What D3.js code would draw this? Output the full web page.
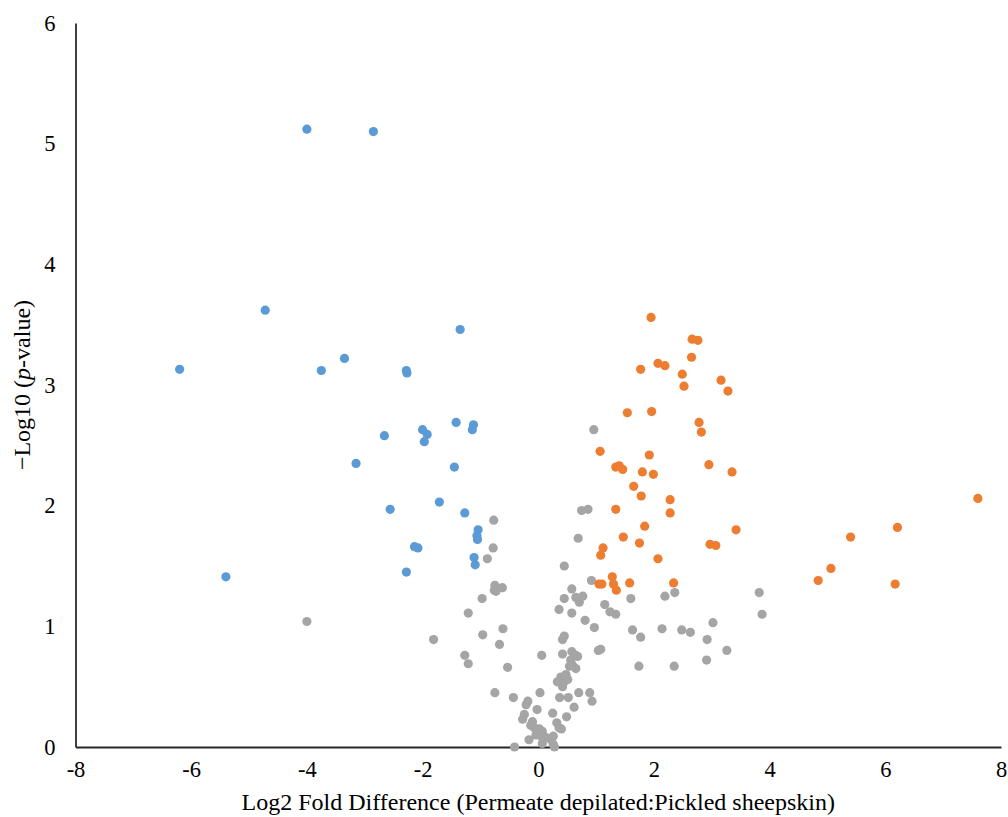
<!DOCTYPE html>
<html>
<head>
<meta charset="utf-8">
<script src="https://cdn.jsdelivr.net/npm/d3@7"></script>
<style>
  html, body { margin: 0; padding: 0; background: #fff; }
  svg { display: block; }
</style>
</head>
<body>
<svg id="chart" width="1008" height="817"></svg>
<script>
// Proteins significantly lower in permeate-depilated skin: [log2 fold difference, -log10 p]
const lowerProteins = [
  [-4.00, 5.12], [-2.85, 5.10], [-4.72, 3.62], [-6.20, 3.13], [-3.35, 3.22],
  [-3.75, 3.12], [-2.28, 3.12], [-2.27, 3.10], [-1.35, 3.46], [-2.66, 2.58],
  [-3.15, 2.35], [-2.00, 2.63], [-1.92, 2.59], [-1.97, 2.53], [-1.42, 2.69],
  [-1.12, 2.67], [-1.14, 2.63], [-1.45, 2.32], [-1.71, 2.03], [-2.56, 1.97],
  [-1.27, 1.94], [-1.04, 1.80], [-1.06, 1.75], [-1.05, 1.72], [-2.14, 1.66],
  [-2.08, 1.65], [-1.11, 1.57], [-1.09, 1.51], [-2.28, 1.45], [-5.40, 1.41]
];

// Proteins significantly higher in permeate-depilated skin
const higherProteins = [
  [1.95, 3.56], [2.66, 3.38], [2.76, 3.37], [2.65, 3.23], [1.77, 3.13],
  [2.07, 3.18], [2.19, 3.16], [2.49, 3.09], [2.52, 2.99], [3.16, 3.04],
  [3.28, 2.95], [1.54, 2.77], [1.96, 2.78], [2.78, 2.69], [2.82, 2.61],
  [1.07, 2.45], [1.92, 2.42], [1.34, 2.32], [1.40, 2.33], [1.46, 2.30],
  [1.80, 2.28], [1.99, 2.26], [2.95, 2.34], [3.35, 2.28], [1.65, 2.16],
  [1.78, 2.08], [2.28, 2.05], [2.28, 1.94], [1.34, 1.97], [1.84, 1.83],
  [3.42, 1.80], [1.47, 1.74], [1.75, 1.69], [2.97, 1.68], [3.07, 1.67],
  [1.12, 1.65], [1.08, 1.59], [2.07, 1.56], [1.28, 1.41], [1.30, 1.35],
  [1.35, 1.30], [1.05, 1.35], [1.10, 1.35], [1.58, 1.36], [2.34, 1.36],
  [7.60, 2.06], [6.21, 1.82], [5.40, 1.74], [5.06, 1.48], [4.84, 1.38],
  [6.17, 1.35]
];

// Proteins without a significant difference
const unchangedProteins = [
  [-4.00, 1.04], [-0.77, 1.88], [-0.78, 1.65], [-0.88, 1.56], [-0.75, 1.34],
  [-0.76, 1.30], [-0.62, 1.32], [-0.73, 1.29], [-0.97, 1.23], [-1.21, 1.11],
  [-0.61, 0.98], [-0.96, 0.93], [-0.67, 0.85], [-1.81, 0.89], [-1.27, 0.76],
  [-1.21, 0.69], [-0.53, 0.66], [-0.75, 0.45], [-0.43, 0.41], [-0.18, 0.38],
  [-0.21, 0.35], [0.06, 0.76], [-0.41, 0.00], [0.42, 0.77], [0.58, 0.79],
  [0.65, 0.76], [0.68, 0.75], [1.04, 0.80], [1.08, 0.81], [0.56, 0.72],
  [0.59, 0.68], [0.65, 0.65], [0.54, 0.67], [0.39, 0.58], [0.48, 0.60],
  [0.33, 0.54], [0.45, 0.54], [0.51, 0.56], [0.42, 0.50], [0.03, 0.45],
  [0.37, 0.41], [0.52, 0.41], [0.70, 0.45], [0.89, 0.45], [0.93, 0.38],
  [0.62, 0.33], [-0.02, 0.31], [0.25, 0.28], [0.49, 0.25], [-0.24, 0.27],
  [-0.27, 0.23], [-0.10, 0.21], [-0.13, 0.18], [-0.07, 0.16], [0.32, 0.20],
  [0.36, 0.16], [0.40, 0.15], [0.02, 0.15], [0.07, 0.13], [-0.04, 0.10],
  [0.05, 0.09], [-0.16, 0.06], [0.13, 0.08], [0.22, 0.06], [0.26, 0.09],
  [0.07, 0.03], [0.28, 0.00], [0.26, 0.02], [0.45, 1.50], [0.92, 1.38],
  [0.58, 1.31], [0.45, 1.23], [0.65, 1.24], [0.77, 1.25], [0.71, 1.20],
  [0.36, 1.14], [0.58, 1.11], [1.15, 1.18], [1.24, 1.12], [1.34, 1.10],
  [1.60, 1.23], [0.81, 1.05], [0.97, 0.99], [1.63, 0.97], [0.45, 0.92],
  [0.42, 0.89], [0.75, 1.96], [0.86, 1.97], [0.69, 1.73], [0.96, 2.63],
  [2.19, 1.25], [2.36, 1.28], [3.82, 1.28], [3.87, 1.10], [1.77, 0.91],
  [2.14, 0.98], [2.48, 0.97], [2.63, 0.95], [3.02, 1.03], [2.92, 0.89],
  [3.26, 0.80], [2.91, 0.72], [2.35, 0.67], [1.74, 0.67]
];

const xTicks = [-8, -6, -4, -2, 0, 2, 4, 6, 8];
const yTicks = [0, 1, 2, 3, 4, 5, 6];

const serif = "'Liberation Serif', 'Times New Roman', serif";
const svg = d3.select("#chart");

const x = d3.scaleLinear().domain([-8, 8]).range([75.5, 1001]);
const y = d3.scaleLinear().domain([0, 6]).range([747, 23]);

// plain hyphen for negative tick values
const tickFmt = d => String(d);

// y axis
const yAxis = svg.append("g")
  .attr("transform", `translate(${x(-8)},0)`)
  .call(d3.axisLeft(y).tickValues(yTicks).tickFormat(tickFmt).tickSize(0).tickPadding(20));
yAxis.attr("font-family", serif).attr("font-size", 22.5);
yAxis.selectAll("text").attr("fill", "#000");
yAxis.select(".domain").attr("stroke", "#404040").attr("stroke-width", 2);

// x axis
const xAxis = svg.append("g")
  .attr("transform", `translate(0,${y(0)})`)
  .call(d3.axisBottom(x).tickValues(xTicks).tickFormat(tickFmt).tickSize(0).tickPadding(14));
xAxis.attr("font-family", serif).attr("font-size", 22.5);
xAxis.selectAll("text").attr("fill", "#000");
xAxis.select(".domain").attr("stroke", "#262626").attr("stroke-width", 2);

// points
const series = [
  { data: unchangedProteins, color: "#A5A5A5" },
  { data: lowerProteins, color: "#5B9BD5" },
  { data: higherProteins, color: "#ED7D31" }
];
series.forEach(s => {
  svg.append("g")
    .selectAll("circle")
    .data(s.data)
    .join("circle")
    .attr("cx", d => x(d[0]))
    .attr("cy", d => y(d[1]))
    .attr("r", 4.6)
    .attr("fill", s.color);
});

// axis titles
svg.append("text")
  .attr("font-family", serif)
  .attr("font-size", 24)
  .attr("fill", "#000")
  .attr("x", (x(-8) + x(8)) / 2)
  .attr("y", 810)
  .attr("text-anchor", "middle")
  .text("Log2 Fold Difference (Permeate depilated:Pickled sheepskin)");

const yTitle = svg.append("text")
  .attr("font-family", serif)
  .attr("font-size", 24)
  .attr("fill", "#000")
  .attr("transform", `translate(30,385) rotate(-90)`)
  .attr("text-anchor", "middle");
yTitle.append("tspan").text("\u2212Log10 (");
yTitle.append("tspan").attr("font-style", "italic").text("p");
yTitle.append("tspan").text("-value)");
</script>
</body>
</html>
